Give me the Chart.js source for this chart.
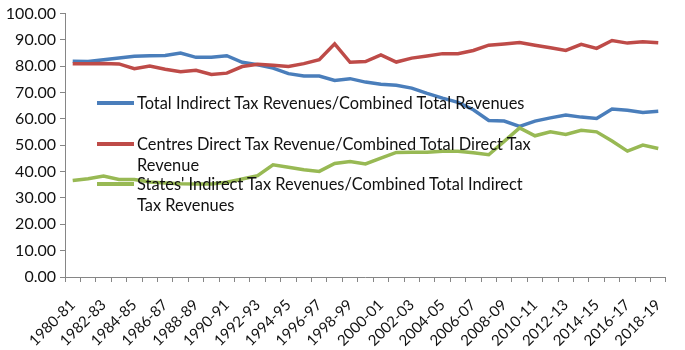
<!DOCTYPE html>
<html>
<head>
<meta charset="utf-8">
<script src="https://cdn.jsdelivr.net/npm/chart.js@4/dist/chart.umd.min.js"></script>
<style>
  body { margin: 0; background: #fff; }
  #wrap { position: relative; width: 685px; height: 350px; }
  #legend { position: absolute; left: 0; top: 0; pointer-events: none; font-family: Lato, sans-serif; font-size: 16.4px; color: #111; }
  .item { position: absolute; left: 97px; display: flex; align-items: flex-start; }
  .swatch { width: 37px; height: 4px; margin-top: 9px; margin-right: 3px; flex: none; }
  .txt { width: 396px; line-height: 21px; }
</style>
</head>
<body>
<div id="wrap">
  <canvas id="myChart" width="685" height="350"></canvas>
  <div id="legend"></div>
</div>
<script>
// years on the x axis
const years = ['1980-81','1981-82','1982-83','1983-84','1984-85','1985-86','1986-87','1987-88','1988-89','1989-90',
  '1990-91','1991-92','1992-93','1993-94','1994-95','1995-96','1996-97','1997-98','1998-99','1999-00',
  '2000-01','2001-02','2002-03','2003-04','2004-05','2005-06','2006-07','2007-08','2008-09','2009-10',
  '2010-11','2011-12','2012-13','2013-14','2014-15','2015-16','2016-17','2017-18','2018-19'];

const seriesNames = ['Total Indirect Tax Revenues/Combined Total Revenues',
  'Centres Direct Tax Revenue/Combined Total Direct Tax Revenue',
  "States' Indirect Tax Revenues/Combined Total Indirect Tax Revenues"];

// values (%)
const totalIndirect = [81.9, 81.8, 82.5, 83.1, 83.8, 84.0, 84.1, 85.0, 83.4, 83.4,
  84.0, 81.5, 80.6, 79.3, 77.2, 76.3, 76.3, 74.6, 75.3, 74.0,
  73.2, 72.8, 71.7, 69.7, 67.9, 66.3, 63.5, 59.4, 59.2, 57.2,
  59.2, 60.4, 61.5, 60.7, 60.2, 63.8, 63.3, 62.5, 62.9];

const centreDirect = [81.0, 81.0, 81.1, 80.9, 79.1, 80.1, 78.9, 77.9, 78.5, 76.9,
  77.4, 79.9, 80.8, 80.4, 79.9, 81.0, 82.5, 88.5, 81.5, 81.8,
  84.3, 81.6, 83.1, 83.9, 84.8, 84.8, 86.0, 88.0, 88.5, 89.0,
  88.0, 87.0, 86.0, 88.3, 86.8, 89.8, 88.8, 89.3, 88.9];

const statesIndirect = [36.6, 37.3, 38.3, 37.0, 37.0, 36.1, 35.7, 35.4, 35.3, 35.3,
  36.0, 37.2, 38.5, 42.6, 41.7, 40.7, 40.1, 43.1, 43.8, 42.9,
  45.1, 47.3, 47.4, 47.4, 47.7, 47.7, 47.2, 46.4, 51.5, 56.6,
  53.6, 55.1, 54.1, 55.7, 55.1, 51.6, 47.8, 50.1, 48.8];

const colors = ['#4a7ebb', '#be4b48', '#98b954'];
const axisColor = '#868686';
const font = 'Lato, sans-serif';

const data_dict = {
    labels: years,
    datasets: [
        { label: seriesNames[0], data: totalIndirect, borderColor: colors[0], order: 2 },
        { label: seriesNames[1], data: centreDirect, borderColor: colors[1], order: 1 },
        { label: seriesNames[2], data: statesIndirect, borderColor: colors[2], order: 0 }
    ].map(d => Object.assign(d, { borderWidth: 3.5, pointRadius: 0, tension: 0, fill: false }))
};

const config = {
    type: 'line',
    data: data_dict,
    options: {
        responsive: false,
        animation: false,
        layout: { padding: { top: -3, right: 1, left: 0, bottom: 0 } },
        plugins: { legend: { display: false }, tooltip: { enabled: false } },
        scales: {
            x: {
                offset: true,
                grid: { offset: true, drawOnChartArea: false, drawTicks: true, tickLength: 5, color: axisColor },
                border: { color: axisColor, width: 1 },
                ticks: {
                    autoSkip: false, maxRotation: 45, minRotation: 45,
                    color: '#111', font: { family: font, size: 15 }, padding: 14,
                    callback: function(v, i) { return i % 2 === 0 ? years[i] : ''; }
                },
                afterFit: function(scale) { scale.height = 73; }
            },
            y: {
                min: 0, max: 100,
                grid: { drawOnChartArea: false, drawTicks: true, tickLength: 5, color: axisColor },
                border: { color: axisColor, width: 1 },
                ticks: {
                    stepSize: 10, color: '#111', font: { family: font, size: 16 }, padding: 4,
                    callback: function(v) { return v.toFixed(2); }
                },
                afterFit: function(scale) { scale.width = 65; }
            }
        }
    }
};

var myChart = new Chart(document.getElementById('myChart'), config);

// legend drawn inside the plot, text wraps like the original
const legendTops = [92, 133, 173];
let legend = document.getElementById('legend');
for (let i = 0; i < seriesNames.length; i++) {
    let item = document.createElement('div');
    item.className = 'item';
    item.style.top = legendTops[i] + 'px';
    let sw = document.createElement('div');
    sw.className = 'swatch';
    sw.style.background = colors[i];
    let t = document.createElement('div');
    t.className = 'txt';
    t.textContent = seriesNames[i];
    item.appendChild(sw);
    item.appendChild(t);
    legend.appendChild(item);
}
</script>
</body>
</html>
